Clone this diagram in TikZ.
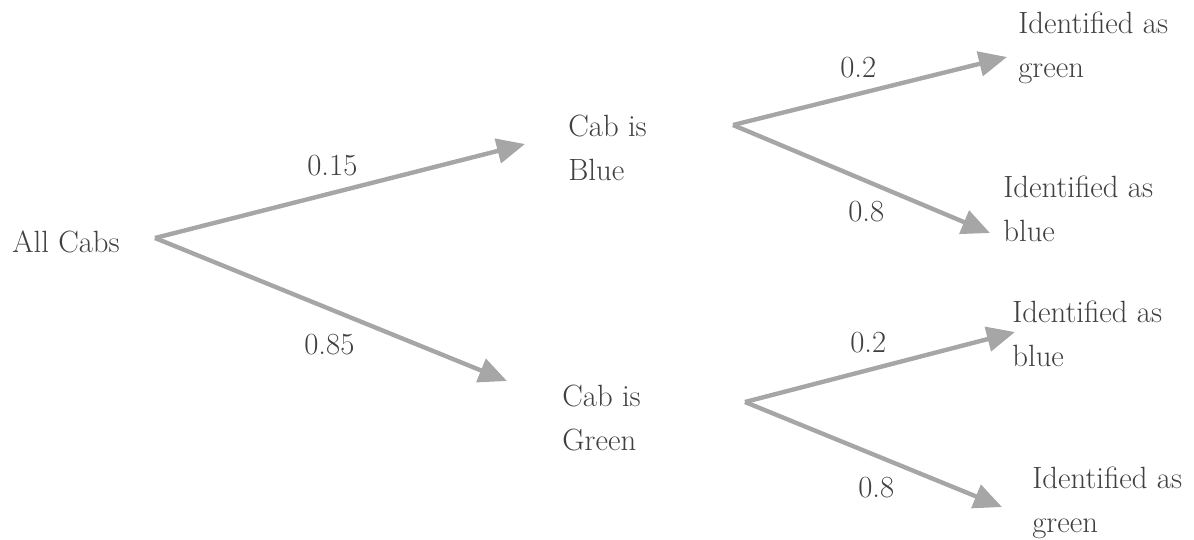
\documentclass[tikz,border=0pt]{standalone}
\usepackage{tikz}
\usetikzlibrary{arrows.meta}

\definecolor{branchgray}{HTML}{A6A6A6}
\definecolor{textgray}{HTML}{404040}

\tikzset{
  branch/.style={draw=branchgray, line width=2.5pt,
    -{Triangle[length=16pt,width=14pt]}},
  lbl/.style={anchor=base west, inner sep=0pt, align=left,
    text=textgray, font=\fontsize{17.5}{25}\selectfont},
}

\begin{document}
\begin{tikzpicture}[x=0.02cm,y=-0.02cm]
      \useasboundingbox (0,0) rectangle (1194,539);
      \node[lbl] (all) at (12,252) {All Cabs};
      \node[lbl] (blue) at (568,180) {Cab is\\Blue};
      \node[lbl] (green) at (562,450) {Cab is\\Green};
      \node[lbl] (bg) at (1018,77) {Identified as\\green};
      \node[lbl] (bb) at (1003,241) {Identified as\\blue};
      \node[lbl] (gb) at (1012,366) {Identified as\\blue};
      \node[lbl] (gg) at (1032,532) {Identified as\\green};
      \coordinate (r) at (155,238);
      \coordinate (vb) at (733,125);
      \coordinate (vg) at (745,402);
      \coordinate (tb) at (525,144);
      \coordinate (tg) at (507,381);
      \coordinate (tbg) at (1007,57);
      \coordinate (tbb) at (990,233);
      \coordinate (tgb) at (1015,332);
      \coordinate (tgg) at (1002,507);
      \draw[branch] (r) -- (tb);
      \draw[branch] (r) -- (tg);
      \draw[branch] (vb) -- (tbg);
      \draw[branch] (vb) -- (tbb);
      \draw[branch] (vg) -- (tgb);
      \draw[branch] (vg) -- (tgg);
      \node[lbl] (p1) at (307,175) {0.15};
      \node[lbl] (p2) at (304,354) {0.85};
      \node[lbl] (p3) at (840,77) {0.2};
      \node[lbl] (p4) at (848,221) {0.8};
      \node[lbl] (p5) at (850,352) {0.2};
      \node[lbl] (p6) at (858,497) {0.8};
    \end{tikzpicture}
\end{document}
